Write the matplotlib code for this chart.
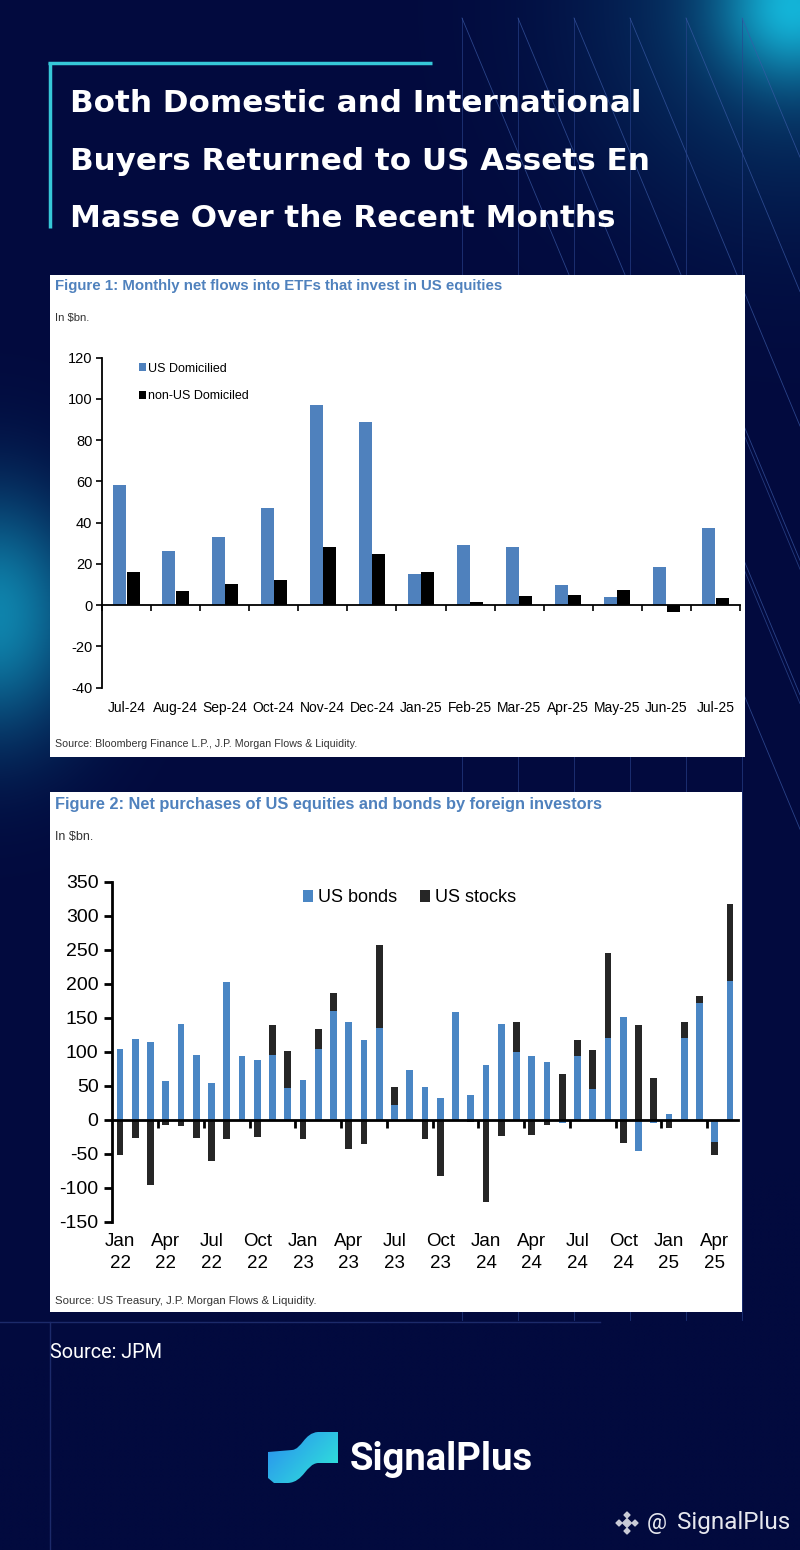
import numpy as np
import matplotlib.pyplot as plt
from matplotlib.patches import Rectangle, PathPatch
from matplotlib.path import Path
from matplotlib.colors import to_rgb

NARROW = ["Liberation Sans Narrow", "Liberation Sans", "DejaVu Sans"]
ARIAL = ["Liberation Sans", "DejaVu Sans"]
plt.rcParams["font.family"] = NARROW
plt.rcParams["axes.unicode_minus"] = False

# ---- Figure 1: monthly net flows into ETFs investing in US equities ($bn)
etf_months = ["Jul-24", "Aug-24", "Sep-24", "Oct-24", "Nov-24", "Dec-24", "Jan-25",
              "Feb-25", "Mar-25", "Apr-25", "May-25", "Jun-25", "Jul-25"]
us_domiciled = [58, 26, 33, 47, 97, 88.5, 15, 29, 28, 9.5, 4, 18.5, 37.5]
non_us_domiciled = [16, 7, 10, 12, 28, 24.5, 16, 1.5, 4.5, 5, 7.5, -3.5, 3.5]

# ---- Figure 2: net purchases by foreign investors, Jan-22 .. May-25 ($bn)
us_bonds = [104, 119, 114, 57, 141, 96, 54, 203, 94, 88, 96, 47,
            59, 105, 160, 144, 117, 135, 22, 73, 49, 32, 159, 37,
            81, 141, 100, 94, 85, -5, 94, 45, 120, 151, -45, -5,
            9, 120, 172, -33, 204]
us_stocks = [-51, -26, -95, -7, -9, -26, -61, -28, 0, -25, 44, 55,
             -28, 29, 27, -42, -35, 122, 27, 0, -28, -82, -2, -3,
             -121, -24, 44, -22, -7, 67, 23, 58, 126, -34, 140, 62,
             -12, 24, 11, -18, 114]
fig2_labels = ["Jan\n22", "Apr\n22", "Jul\n22", "Oct\n22", "Jan\n23", "Apr\n23", "Jul\n23",
               "Oct\n23", "Jan\n24", "Apr\n24", "Jul\n24", "Oct\n24", "Jan\n25", "Apr\n25"]

W, H = 800, 1550
NAVY = "#020a3e"
BLUE = "#4f81bd"

fig = plt.figure(figsize=(W / 100, H / 100), dpi=100)
fig.patch.set_facecolor(NAVY)


def px_axes(x0, y0, x1, y1):
    return fig.add_axes([x0 / W, 1 - y1 / H, (x1 - x0) / W, (y1 - y0) / H])


# background layer in pixel coordinates
bg = fig.add_axes([0, 0, 1, 1])
bg.set_xlim(0, W)
bg.set_ylim(H, 0)
bg.axis("off")

gx, gy = np.meshgrid(np.linspace(0, W, 161), np.linspace(0, H, 311))
img = np.ones(gx.shape + (3,)) * np.array(to_rgb(NAVY))
glow1 = np.exp(-(((gx - 795) ** 2 + (gy - 5) ** 2) / 70.0 ** 2))
glow1b = 0.3 * np.exp(-(((gx - 795) ** 2 + (gy - 5) ** 2) / 190.0 ** 2))
glow2 = 0.72 * np.exp(-(((gx + 10) ** 2 / 95.0 ** 2) + ((gy - 615) ** 2 / 120.0 ** 2)))
cyan = np.array(to_rgb("#14b4d8"))
for g in (glow1, glow1b, glow2):
    img = img * (1 - g[..., None]) + cyan * g[..., None]
bg.imshow(img, extent=(0, W, H, 0), aspect="auto", interpolation="bilinear", zorder=0)

# decorative thin lines
for x in [462, 518, 574, 630, 686, 742]:
    bg.plot([x, x], [18, 1320], color="#2b4590", lw=0.6, alpha=0.7, zorder=1)
    bg.plot([x, 800], [18, 18 + (800 - x) * 2.4], color="#3b5ba8", lw=0.6, alpha=0.7, zorder=1)
for x in [742, 686]:
    bg.plot([x, 800], [430, 430 + (800 - x) * 2.4], color="#3b5ba8", lw=0.6, alpha=0.6, zorder=1)
bg.plot([0, 600], [1322, 1322], color="#1c2a6a", lw=1, zorder=1)
bg.plot([50, 50], [1322, H], color="#1c2a6a", lw=1, zorder=1)

# cyan bracket and headline
bg.plot([48, 432], [63, 63], color="#36c8d8", lw=2.5, solid_capstyle="butt", zorder=2)
bg.plot([50, 50], [62, 228], color="#36c8d8", lw=2.5, solid_capstyle="butt", zorder=2)
for txt, yb in [("Both Domestic and International", 112),
                ("Buyers Returned to US Assets En", 170),
                ("Masse Over the Recent Months", 227)]:
    bg.text(70, yb, txt, color="white", fontsize=22.3, fontweight="bold",
            family=["DejaVu Sans"], va="baseline", ha="left", zorder=3)

# white panels
bg.add_patch(Rectangle((50, 275), 695, 482, facecolor="white", edgecolor="none", zorder=2))
bg.add_patch(Rectangle((50, 792), 692, 520, facecolor="white", edgecolor="none", zorder=2))

bg.text(55, 286, "Figure 1: Monthly net flows into ETFs that invest in US equities",
        color=BLUE, fontsize=10.8, fontweight="bold", family=ARIAL, va="center", zorder=3)
bg.text(55, 318, "In $bn.", color="#333333", fontsize=8.2, family=ARIAL, va="center", zorder=3)
bg.text(55, 744, "Source: Bloomberg Finance L.P., J.P. Morgan Flows & Liquidity.",
        color="#333333", fontsize=7.7, family=ARIAL, va="center", zorder=3)

bg.text(55, 804, "Figure 2: Net purchases of US equities and bonds by foreign investors",
        color=BLUE, fontsize=11.75, fontweight="bold", family=ARIAL, va="center", zorder=3)
bg.text(55, 837, "In $bn.", color="#333333", fontsize=9, family=ARIAL, va="center", zorder=3)
bg.text(55, 1301, "Source: US Treasury, J.P. Morgan Flows & Liquidity.",
        color="#333333", fontsize=8.2, family=ARIAL, va="center", zorder=3)

# footer
bg.text(50, 1353, "Source: JPM", color="white", fontsize=14.3, family=["Roboto", "DejaVu Sans"],
        va="center", zorder=3)
logo = Path([(268, 1452), (292, 1450), (302, 1449), (304, 1433), (318, 1432), (338, 1432),
             (338, 1463), (318, 1463), (306, 1464), (304, 1482), (288, 1483), (274, 1483),
             (268, 1478), (268, 1452)],
            [Path.MOVETO, Path.LINETO, Path.CURVE4, Path.CURVE4, Path.CURVE4, Path.LINETO,
             Path.LINETO, Path.LINETO, Path.CURVE4, Path.CURVE4, Path.CURVE4, Path.LINETO,
             Path.LINETO, Path.CLOSEPOLY])
patch = PathPatch(logo, facecolor="none", edgecolor="none", zorder=3)
bg.add_patch(patch)
lx, ly = np.meshgrid(np.linspace(0, 1, 50), np.linspace(0, 1, 40))
t = np.clip(0.6 * lx + 0.4 * ly, 0, 1)[..., None]
grad = np.array(to_rgb("#2a8cf0")) * (1 - t) + np.array(to_rgb("#30ead8")) * t
gim = bg.imshow(grad, extent=(268, 338, 1483, 1432), origin="upper", aspect="auto", zorder=3)
gim.set_clip_path(patch)
bg.text(350, 1459, "SignalPlus", color="white", fontsize=27.5, fontweight="bold",
        family=["Roboto", "DejaVu Sans"], va="center", ha="left", zorder=3)

bg.scatter([627, 619, 635, 627, 627], [1523, 1523, 1523, 1515, 1531], marker="D",
           s=[20, 9, 9, 9, 9], color="#c9cbd6", zorder=3)
bg.text(647, 1524, "@", color="#e6e7ee", fontsize=16, family=["Roboto", "DejaVu Sans"],
        va="center", zorder=3)
bg.text(677, 1523, "SignalPlus", color="#e6e7ee", fontsize=17.5, family=["Roboto", "DejaVu Sans"],
        va="center", zorder=3)

# ---- chart 1
ax1 = px_axes(102, 357.5, 740, 687.5)
ax1.set_facecolor("none")
x1 = np.arange(len(etf_months))
ax1.bar(x1 - 0.135, us_domiciled, 0.265, color=BLUE, label="US Domicilied", zorder=2)
ax1.bar(x1 + 0.135, non_us_domiciled, 0.265, color="black", label="non-US Domiciled", zorder=2)
ax1.set_xlim(-0.5, len(etf_months) - 0.5)
ax1.set_ylim(-40, 120)
ax1.set_yticks(np.arange(-40, 121, 20))
ax1.spines["right"].set_visible(False)
ax1.spines["bottom"].set_visible(False)
ax1.spines["top"].set_position(("data", 0))
for s in ("left", "top"):
    ax1.spines[s].set_linewidth(1.3)
ax1.set_xticks(np.arange(-0.5, len(etf_months), 1))
ax1.set_xticks(x1, etf_months, minor=True)
ax1.tick_params(axis="x", which="major", top=True, bottom=False, direction="in", length=4,
                width=1.2, labeltop=False, labelbottom=False)
ax1.tick_params(axis="x", which="minor", top=False, bottom=True, length=0, pad=10,
                labelbottom=True, labelsize=10)
ax1.tick_params(axis="y", direction="out", length=4, width=1.2, labelsize=10.5, pad=3)
ax1.legend(loc="upper left", bbox_to_anchor=(0.05, 1.0), frameon=False, fontsize=9,
           handlelength=0.6, handleheight=0.6, handletextpad=0.15, labelspacing=1.25,
           borderaxespad=0)

# ---- chart 2
ax2 = px_axes(112.4, 882, 737.6, 1222)
ax2.set_facecolor("none")
x2 = np.arange(len(us_bonds))
bonds = np.array(us_bonds, dtype=float)
stocks = np.array(us_stocks, dtype=float)
stock_base = np.where(stocks >= 0, np.maximum(bonds, 0), np.minimum(bonds, 0))
ax2.bar(x2, bonds, 0.45, color="#4a86c4", label="US bonds", zorder=2)
ax2.bar(x2, stocks, 0.45, bottom=stock_base, color="#262626", label="US stocks", zorder=2)
ax2.set_xlim(-0.5, len(us_bonds) - 0.5)
ax2.set_ylim(-150, 350)
ax2.set_yticks(np.arange(-150, 351, 50))
ax2.spines["right"].set_visible(False)
ax2.spines["bottom"].set_visible(False)
ax2.spines["top"].set_position(("data", 0))
for s in ("left", "top"):
    ax2.spines[s].set_linewidth(2)
ax2.set_xticks(np.arange(2.5, len(us_bonds), 3))
ax2.set_xticks(np.arange(0, len(us_bonds), 3), fig2_labels, minor=True)
ax2.tick_params(axis="x", which="major", top=True, bottom=False, direction="in", length=6,
                width=2, labeltop=False, labelbottom=False)
ax2.tick_params(axis="x", which="minor", top=False, bottom=True, length=0, pad=8,
                labelbottom=True, labelsize=13.5)
for lab in ax2.get_xticklabels(minor=True):
    lab.set_linespacing(1.4)
ax2.tick_params(axis="y", direction="out", length=6, width=2, labelsize=14, pad=4)
ax2.legend(loc="upper center", bbox_to_anchor=(0.475, 1.0), ncol=2, frameon=False, fontsize=13,
           handlelength=0.55, handleheight=0.7, handletextpad=0.25, columnspacing=1.3,
           borderaxespad=0)

fig.savefig("out.png", dpi=100, facecolor=NAVY)
